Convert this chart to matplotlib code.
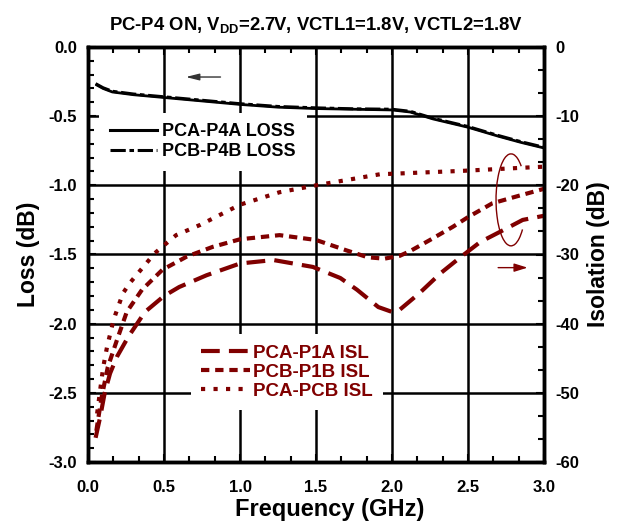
import numpy as np
import matplotlib
matplotlib.use("Agg")
import matplotlib.pyplot as plt
from matplotlib.ticker import MultipleLocator
from matplotlib.patches import Arc
from matplotlib.lines import Line2D

plt.rcParams['font.family'] = ['Liberation Sans', 'DejaVu Sans']
plt.rcParams['font.weight'] = 'bold'
plt.rcParams['axes.labelweight'] = 'bold'
plt.rcParams['axes.titleweight'] = 'bold'
plt.rcParams['mathtext.fontset'] = 'custom'
plt.rcParams['mathtext.rm'] = 'Liberation Sans:bold'
plt.rcParams['mathtext.bf'] = 'Liberation Sans:bold'

DARK_RED = '#800000'

# ---- Loss data (left axis, dB) ----
loss_freq = [0.05, 0.10, 0.16, 0.30, 0.50, 0.75, 1.00, 1.25, 1.50, 1.75, 2.00, 2.12, 2.27, 2.50, 2.70, 2.85, 3.00]
loss_p4a = [-0.27, -0.30, -0.325, -0.345, -0.365, -0.39, -0.415, -0.435, -0.445, -0.45, -0.455, -0.47, -0.52, -0.58, -0.645, -0.69, -0.73]
loss_p4b = [-0.265, -0.295, -0.32, -0.34, -0.36, -0.385, -0.41, -0.43, -0.44, -0.447, -0.45, -0.465, -0.515, -0.575, -0.64, -0.685, -0.725]

# ---- Isolation data (right axis, dB) ----
p1a_freq = [0.05, 0.08, 0.11, 0.145, 0.19, 0.265, 0.375, 0.50, 0.60, 0.78, 1.00, 1.22, 1.48, 1.66, 1.77, 1.91, 2.00, 2.05, 2.18, 2.32, 2.45, 2.58, 2.73, 2.86, 3.00]
p1a_isl = [-56.5, -53.5, -50.0, -47.2, -44.8, -41.9, -38.3, -36.0, -34.7, -33.0, -31.3, -30.8, -31.8, -33.4, -35.1, -37.6, -38.3, -38.0, -35.6, -32.7, -30.4, -28.2, -26.5, -25.0, -24.4]

p1b_freq = [0.055, 0.066, 0.09, 0.13, 0.19, 0.255, 0.355, 0.49, 0.65, 0.82, 1.00, 1.26, 1.50, 1.70, 1.84, 1.95, 2.05, 2.12, 2.25, 2.40, 2.50, 2.66, 2.82, 3.00]
p1b_isl = [-55.5, -53.9, -50.6, -46.3, -42.4, -38.3, -35.1, -32.2, -30.3, -28.9, -27.8, -27.2, -27.9, -29.4, -30.4, -30.6, -30.2, -29.5, -27.9, -26.0, -24.6, -22.6, -21.6, -20.5]

pcb_freq = [0.06, 0.08, 0.10, 0.125, 0.16, 0.18, 0.23, 0.276, 0.39, 0.44, 0.52, 0.58, 0.74, 1.00, 1.26, 1.50, 1.92, 2.47, 3.00]
pcb_isl = [-53.0, -49.6, -46.3, -43.4, -40.2, -38.7, -35.6, -34.1, -31.1, -29.8, -28.3, -27.2, -25.7, -22.8, -21.0, -20.0, -18.4, -17.9, -17.3]

title = r'PC-P4 ON, V$_{\mathrm{DD}}$=2.7V, VCTL1=1.8V, VCTL2=1.8V'
x_ticks = [0.0, 0.5, 1.0, 1.5, 2.0, 2.5, 3.0]
loss_ticks = [0.0, -0.5, -1.0, -1.5, -2.0, -2.5, -3.0]
isl_ticks = [0, -10, -20, -30, -40, -50, -60]

fig = plt.figure(figsize=(6.2, 5.24), dpi=100)
ax = fig.add_axes([88/620, 1 - 462/524, (544-88)/620, (462-47)/524])
ax2 = ax.twinx()

LOSS_DASH = (5, 1.2, 1.5, 1.2)
P1A_DASH = (4.5, 2.2)
P1B_DASH = (2.0, 1.4)
PCB_DASH = (1.0, 2.0)

# loss lines
ax.plot(loss_freq, loss_p4a, color='black', lw=2.0, solid_capstyle='butt', zorder=3)
ax.plot(loss_freq, loss_p4b, color='black', lw=2.2, dashes=LOSS_DASH, zorder=3)

# isolation lines
ax2.plot(p1a_freq, p1a_isl, color=DARK_RED, lw=3.0, dashes=P1A_DASH)
ax2.plot(p1b_freq, p1b_isl, color=DARK_RED, lw=3.0, dashes=P1B_DASH)
ax2.plot(pcb_freq, pcb_isl, color=DARK_RED, lw=3.0, dashes=PCB_DASH)

ax.set_xlim(0, 3.0)
ax.set_ylim(-3.0, 0.0)
ax2.set_ylim(-60, 0)

TICK_FS = 12
ax.set_xticks(x_ticks)
ax.set_xticklabels([f'{v:.1f}' for v in x_ticks], fontweight='bold')
ax.set_yticks(loss_ticks)
ax.set_yticklabels([f'{v:.1f}' for v in loss_ticks], fontweight='bold')
ax2.set_yticks(isl_ticks)
ax2.set_yticklabels([f'{v:d}' for v in isl_ticks], fontweight='bold')
ax.xaxis.set_minor_locator(MultipleLocator(0.5/3))
ax.yaxis.set_minor_locator(MultipleLocator(0.1))
ax2.yaxis.set_minor_locator(MultipleLocator(10/3))

ax.grid(True, which='major', color='black', lw=1.8)
ax.tick_params(axis='both', which='both', direction='in', top=True, width=1.5, labelsize=TICK_FS)
ax.tick_params(axis='both', which='major', length=6)
ax.tick_params(axis='both', which='minor', length=4)
ax.tick_params(axis='x', pad=13)
ax.tick_params(axis='y', pad=8)
ax2.tick_params(axis='y', which='both', direction='in', width=1.5, labelsize=TICK_FS, pad=8)
ax2.tick_params(axis='y', which='major', length=6)
ax2.tick_params(axis='y', which='minor', length=4)
for a in (ax, ax2):
    for s in a.spines.values():
        s.set_linewidth(2.5)

ax.set_xlabel('Frequency (GHz)', fontsize=17, fontweight='bold', labelpad=2)
ax.xaxis.set_label_coords((330 - 88) / 456, -0.087)
ax.set_ylabel('Loss (dB)', fontsize=16.5, fontweight='bold', labelpad=6)
ax2.set_ylabel('Isolation (dB)', fontsize=16.5, fontweight='bold', labelpad=6)
ax.set_title(title, fontsize=13.3, fontweight='bold', pad=12)

LEG_FS = 13
# legends
h_loss = [Line2D([], [], color='black', lw=2.2),
          Line2D([], [], color='black', lw=2.2, dashes=LOSS_DASH)]
leg1 = ax2.legend(h_loss, ['PCA-P4A LOSS', 'PCB-P4B LOSS'], loc='upper left',
                  bbox_to_anchor=(0.024, 0.842), frameon=True,
                  facecolor='white', edgecolor='none', framealpha=1, fancybox=False,
                  handlelength=2.6, handletextpad=0.3, labelspacing=0.15,
                  borderaxespad=0.0, borderpad=0.6,
                  prop={'weight': 'bold', 'size': LEG_FS})
ax2.add_artist(leg1)
h_isl = [Line2D([], [], color=DARK_RED, lw=3.0, dashes=P1A_DASH),
         Line2D([], [], color=DARK_RED, lw=3.0, dashes=P1B_DASH),
         Line2D([], [], color=DARK_RED, lw=3.0, dashes=PCB_DASH)]
leg2 = ax2.legend(h_isl, ['PCA-P1A ISL', 'PCB-P1B ISL', 'PCA-PCB ISL'], loc='lower left',
                  bbox_to_anchor=(0.225, 0.125), frameon=True,
                  facecolor='white', edgecolor='none', framealpha=1, fancybox=False,
                  handlelength=2.6, handletextpad=0.2, labelspacing=0.1,
                  borderaxespad=0.0, borderpad=0.55, labelcolor=DARK_RED,
                  prop={'weight': 'bold', 'size': 13.5})

# annotation arrows
ax.annotate('', xy=(0.625, -0.217), xytext=(0.89, -0.217),
            arrowprops=dict(arrowstyle='-|>,head_length=0.8,head_width=0.2', color='#333333', lw=1.0))
ax2.annotate('', xy=(2.91, -31.9), xytext=(2.68, -31.9),
             arrowprops=dict(arrowstyle='-|>,head_length=0.8,head_width=0.25', color=DARK_RED, lw=1.0))

# hand-drawn style oval around isolation curves
cx, cy, w, h = 2.783, -22.1, 0.197, 13.3
t1, t2 = np.deg2rad(47), np.deg2rad(320)
g1 = np.rad2deg(np.arctan2(h*np.sin(t1), w*np.cos(t1)))
g2 = np.rad2deg(np.arctan2(h*np.sin(t2), w*np.cos(t2)))
ax2.add_patch(Arc((cx, cy), w, h, theta1=g1, theta2=g2, color=DARK_RED, lw=1.0))

fig.savefig('out.png', dpi=100)
